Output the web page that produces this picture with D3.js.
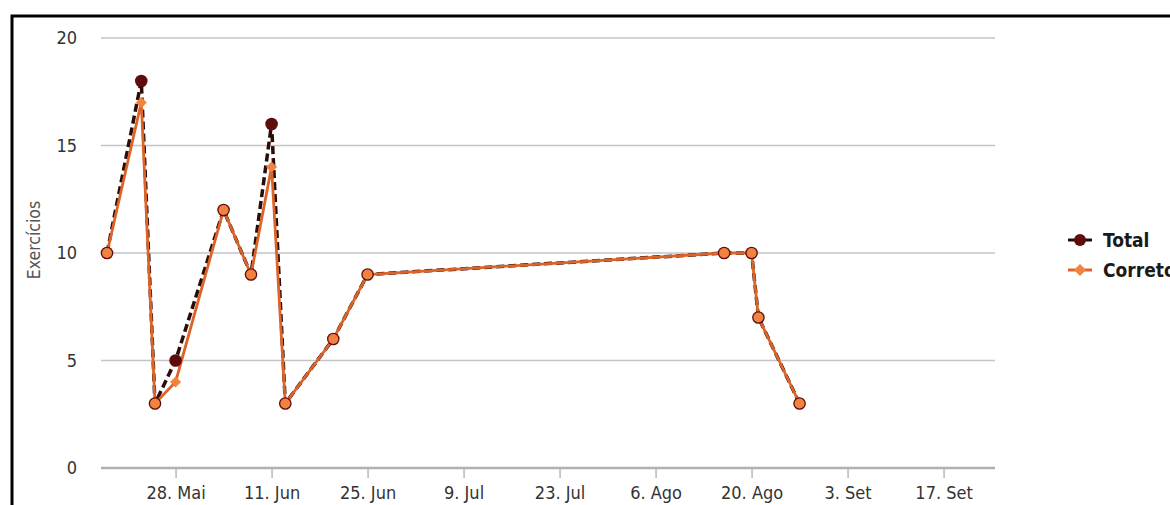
<!DOCTYPE html>
<html>
<head>
<meta charset="utf-8">
<script src="https://cdn.jsdelivr.net/npm/d3@7"></script>
<style>
  html, body { margin: 0; padding: 0; background: #fff; overflow: hidden; }
  svg { display: block; }
</style>
</head>
<body>
<svg id="chart" width="1170" height="505"></svg>
<script>
// Daily exercise counts
const dates   = ["2012-05-18","2012-05-23","2012-05-25","2012-05-28","2012-06-04","2012-06-08","2012-06-11",
                 "2012-06-13","2012-06-20","2012-06-25","2012-08-16","2012-08-20","2012-08-21","2012-08-27"];
const total   = [10, 18, 3, 5, 12, 9, 16, 3, 6, 9, 10, 10, 7, 3];
const correct = [10, 17, 3, 4, 12, 9, 14, 3, 6, 9, 10, 10, 7, 3];

const seriesNames = ["Total", "Corretos"];
const monthsPt = ["Jan","Fev","Mar","Abr","Mai","Jun","Jul","Ago","Set","Out","Nov","Dez"];
const xTickDates = ["2012-05-28","2012-06-11","2012-06-25","2012-07-09","2012-07-23",
                    "2012-08-06","2012-08-20","2012-09-03","2012-09-17"];
const yTicks = [0, 5, 10, 15, 20];
const yTitle = "Exercícios";

const parse = d3.utcParse("%Y-%m-%d");
const totalPts = dates.map((d, i) => ({ date: parse(d), value: total[i] }));
const correctPts = dates.map((d, i) => ({ date: parse(d), value: correct[i], same: correct[i] === total[i] }));

const svg = d3.select("#chart");
const font = "'DejaVu Sans Condensed', 'DejaVu Sans', sans-serif";

const x = d3.scaleUtc()
  .domain([new Date(Date.UTC(2012, 4, 17, 3)), new Date(Date.UTC(2012, 8, 24, 12))])
  .range([101, 995]);
const y = d3.scaleLinear().domain([0, 20]).range([468, 38]);

// Frame
svg.append("rect")
  .attr("x", 12).attr("y", 16)
  .attr("width", 1200).attr("height", 600)
  .attr("fill", "none").attr("stroke", "#000").attr("stroke-width", 3);

// Horizontal grid
svg.append("g").selectAll("line")
  .data(yTicks.filter(v => v !== 0))
  .join("line")
  .attr("x1", 101).attr("x2", 995)
  .attr("y1", d => y(d)).attr("y2", d => y(d))
  .attr("stroke", "#c4c4c4").attr("stroke-width", 1.5);

// Y axis labels
const yAxis = d3.axisLeft(y).tickValues(yTicks).tickSize(0).tickPadding(0);
const gy = svg.append("g").attr("transform", "translate(77,0)").call(yAxis);
gy.select(".domain").remove();
gy.selectAll("text")
  .attr("font-family", font).attr("font-size", 18).attr("fill", "#333");

// Y title
svg.append("text")
  .attr("transform", "translate(40,240) rotate(-90)")
  .attr("text-anchor", "middle")
  .attr("font-family", font).attr("font-size", 17.5).attr("fill", "#555")
  .text(yTitle);

// X axis
const xAxis = d3.axisBottom(x)
  .tickValues(xTickDates.map(parse))
  .tickSize(10)
  .tickPadding(8)
  .tickFormat(d => d.getUTCDate() + ". " + monthsPt[d.getUTCMonth()]);
const gx = svg.append("g").attr("transform", "translate(0,468)").call(xAxis);
gx.select(".domain").remove();
gx.selectAll(".tick line").attr("stroke", "#b8b8b8").attr("stroke-width", 1.5);
gx.selectAll("text")
  .attr("font-family", font).attr("font-size", 18).attr("fill", "#333");
svg.append("line")
  .attr("x1", 101).attr("x2", 995).attr("y1", y(0)).attr("y2", y(0))
  .attr("stroke", "#b0b0b0").attr("stroke-width", 2.5);

// Lines
const line = d3.line().x(d => x(d.date)).y(d => y(d.value));
const colTotalLine = "#2a0c08";
const colTotal = "#5e0c0c";
const colCorrectLine = "#dc6428";
const colCorrect = "#f2823f";

svg.append("path").datum(totalPts)
  .attr("d", line).attr("fill", "none")
  .attr("stroke", colTotalLine).attr("stroke-width", 3.5)
  .attr("stroke-dasharray", "8,4");

svg.append("path").datum(correctPts)
  .attr("d", line).attr("fill", "none")
  .attr("stroke", colCorrectLine).attr("stroke-width", 2.8);

// Markers
const diamond = (cx, cy, r) => `M${cx},${cy - r}L${cx + r},${cy}L${cx},${cy + r}L${cx - r},${cy}Z`;

svg.append("g").selectAll("circle")
  .data(totalPts).join("circle")
  .attr("cx", d => x(d.date)).attr("cy", d => y(d.value))
  .attr("r", 6.3).attr("fill", colTotal);

// Where both series coincide the orange marker sits inside the dark one
svg.append("g").selectAll("circle")
  .data(correctPts.filter(d => d.same)).join("circle")
  .attr("cx", d => x(d.date)).attr("cy", d => y(d.value))
  .attr("r", 5).attr("fill", colCorrect);

svg.append("g").selectAll("path")
  .data(correctPts.filter(d => !d.same)).join("path")
  .attr("d", d => diamond(x(d.date), y(d.value), 5.5))
  .attr("fill", colCorrect);

// Legend
const legend = svg.append("g");
const legendItems = [
  { name: seriesNames[0], y: 240, line: colTotalLine, fill: colTotal, shape: "circle" },
  { name: seriesNames[1], y: 270, line: colCorrectLine, fill: colCorrect, shape: "diamond" }
];
legendItems.forEach(it => {
  legend.append("line")
    .attr("x1", 1068).attr("x2", 1092).attr("y1", it.y).attr("y2", it.y)
    .attr("stroke", it.line).attr("stroke-width", 3);
  if (it.shape === "circle") {
    legend.append("circle").attr("cx", 1080).attr("cy", it.y).attr("r", 6).attr("fill", it.fill);
  } else {
    legend.append("path").attr("d", diamond(1080, it.y, 6)).attr("fill", it.fill);
  }
  legend.append("text")
    .attr("x", 1103).attr("y", it.y + 7)
    .attr("font-family", font).attr("font-size", 19).attr("font-weight", "bold")
    .attr("fill", "#1a1a1a")
    .text(it.name);
});
</script>
</body>
</html>
